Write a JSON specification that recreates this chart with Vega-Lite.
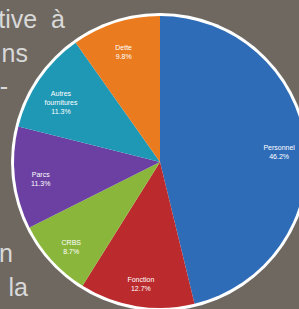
{
  "$schema": "https://vega.github.io/schema/vega-lite/v6.json",
  "width": 296,
  "height": 296,
  "autosize": "none",
  "padding": {"left": 12, "top": 14, "right": 0, "bottom": 0},
  "background": "#6e6861",
  "config": {"view": {"stroke": null}},
  "datasets": {
    "slices": [
      {"cat": "Personnel", "value": 46.2, "ord": 1, "label": "Personnel\n46.2%"},
      {"cat": "Fonction", "value": 12.7, "ord": 2, "label": "Fonction\n12.7%"},
      {"cat": "CRBS", "value": 8.7, "ord": 3, "label": "CRBS\n8.7%"},
      {"cat": "Parcs", "value": 11.3, "ord": 4, "label": "Parcs\n11.3%"},
      {"cat": "Autres fournitures", "value": 11.3, "ord": 5, "label": "Autres\nfournitures\n11.3%"},
      {"cat": "Dette", "value": 9.8, "ord": 6, "label": "Dette\n9.8%"}
    ],
    "lines": [
      {"line": 1, "text": "tive\u00a0\u00a0à", "end": 53},
      {"line": 2, "text": "ns", "end": 16},
      {"line": 3, "text": "-", "end": -4},
      {"line": 8, "text": "n", "end": 1},
      {"line": 9, "text": "la", "end": 16}
    ]
  },
  "layer": [
    {
      "data": {"name": "lines"},
      "mark": {"type": "text", "align": "right", "baseline": "alphabetic", "font": "Liberation Sans", "fontSize": 25, "color": "#d9d9d9"},
      "encoding": {
        "x": {"field": "end", "type": "quantitative", "scale": {"domain": [0, 296], "nice": false, "zero": false}, "axis": null},
        "y": {"field": "line", "type": "quantitative", "scale": {"domain": [0.582, 9.418], "reverse": true, "nice": false, "zero": false}, "axis": null},
        "text": {"field": "text"}
      }
    },
    {
      "data": {"name": "slices"},
      "mark": {"type": "arc", "outerRadius": 149, "color": "#ffffff"},
      "encoding": {
        "theta": {"aggregate": "sum", "field": "value", "type": "quantitative"}
      }
    },
    {
      "data": {"name": "slices"},
      "mark": {"type": "arc", "outerRadius": 146},
      "encoding": {
        "theta": {"field": "value", "type": "quantitative", "stack": true},
        "order": {"field": "ord", "type": "quantitative"},
        "color": {
          "field": "cat", "type": "nominal", "legend": null,
          "scale": {
            "domain": ["Personnel", "Fonction", "CRBS", "Parcs", "Autres fournitures", "Dette"],
            "range": ["#2f6cb7", "#bb2a2c", "#8ab73b", "#6b40a2", "#1f98b6", "#ea7b1f"]
          }
        }
      }
    },
    {
      "data": {"name": "slices"},
      "mark": {"type": "text", "radius": 120, "color": "#ffffff", "font": "Liberation Sans", "fontSize": 7, "lineBreak": "\n", "lineHeight": 9},
      "encoding": {
        "theta": {"field": "value", "type": "quantitative", "stack": true},
        "order": {"field": "ord", "type": "quantitative"},
        "text": {"field": "label"}
      }
    }
  ],
  "resolve": {"scale": {"theta": "independent"}}
}
